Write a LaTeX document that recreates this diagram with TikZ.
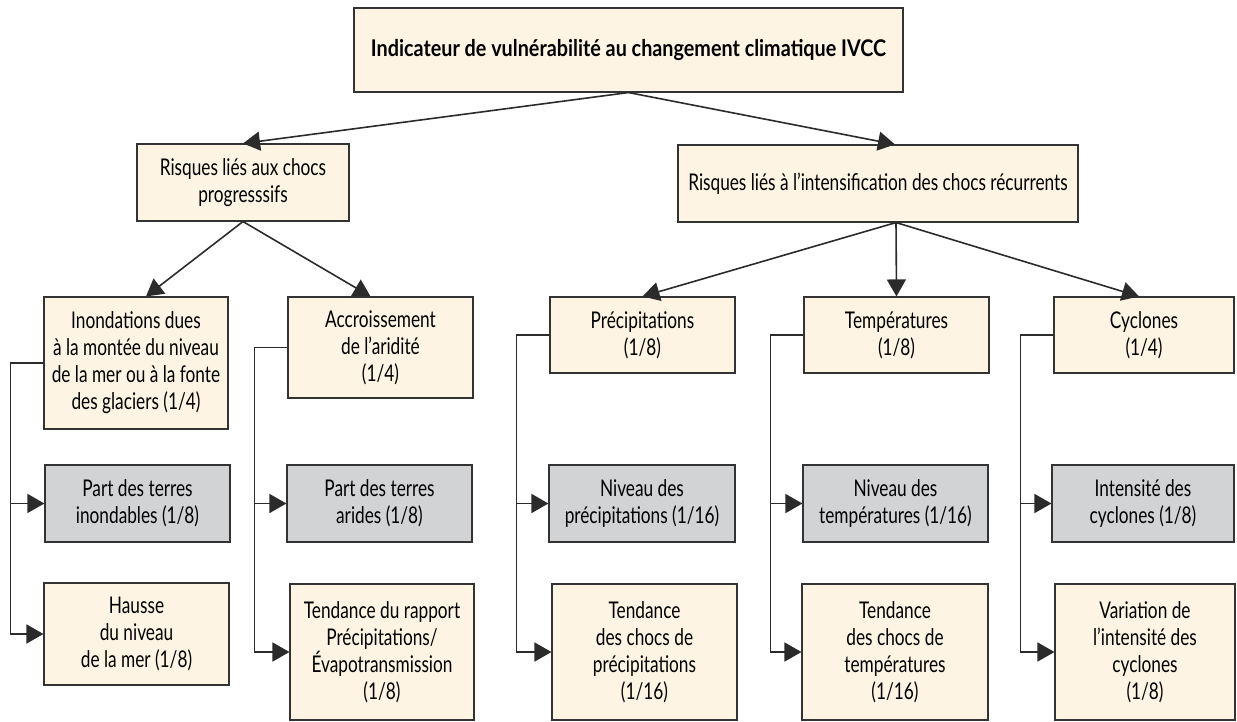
\documentclass[tikz,border=0pt]{standalone}
\usepackage{fontspec}
\setmainfont{Lato}[FakeStretch=0.75]
\newfontfamily\titlefont{Lato}[FakeStretch=0.86]
\usetikzlibrary{arrows.meta,calc}
\definecolor{cream}{HTML}{FEF4E3}
\definecolor{grayfill}{HTML}{D1D3D4}
\definecolor{edge}{HTML}{333333}
\definecolor{linec}{HTML}{2B2B2B}
\begin{document}
\begin{tikzpicture}[x=1pt,y=-1pt,
  bx/.style={draw=edge, line width=1.1pt, fill=cream, inner sep=0pt, align=center,
    font=\fontsize{23}{27}\selectfont},
  gbx/.style={bx, fill=grayfill},
  sz/.style 2 args={minimum width=#1pt, minimum height=#2pt},
  arr/.style={draw=linec, line width=1.6pt, -{Triangle[length=17pt,width=19pt]}}
]
\useasboundingbox (0,0) rectangle (1237,722);

% level 1
\node[bx, sz={549}{84}, font=\fontsize{23}{27}\selectfont\titlefont\bfseries] (top) at (628.5,50)
  {Indicateur de vulnérabilité au changement climatique IVCC};

% level 2
\node[bx, sz={212}{77}] (r1) at (243,182.5) {Risques liés aux chocs\\progresssifs};
\node[bx, sz={400}{77}] (r2) at (878,183.5) {Risques liés à l’intensification des chocs récurrents};

% level 3
\node[bx, sz={184}{132}] (inond) at (136,363)
  {Inondations dues\\à la montée du niveau\\de la mer ou à la fonte\\des glaciers (1/4)};
\node[bx, sz={185}{101}] (accr) at (380.5,347.5) {Accroissement\\de l’aridité\\(1/4)};
\node[bx, sz={185}{76}] (prec) at (642.5,335) {Précipitations\\(1/8)};
\node[bx, sz={185}{76}] (temp) at (896.5,335) {Températures\\(1/8)};
\node[bx, sz={180}{76}] (cycl) at (1144,335) {Cyclones\\(1/4)};

% level 4 (gray)
\node[gbx, sz={185}{77}] (g1) at (137.5,503.5) {Part des terres\\inondables (1/8)};
\node[gbx, sz={185}{77}] (g2) at (379.5,503.5) {Part des terres\\arides (1/8)};
\node[gbx, sz={186}{77}] (g3) at (642,503.5) {Niveau des\\précipitations (1/16)};
\node[gbx, sz={185}{77}] (g4) at (895.5,503.5) {Niveau des\\températures (1/16)};
\node[gbx, sz={182}{77}] (g5) at (1143,503.5) {Intensité des\\cyclones (1/8)};

% level 5
\node[bx, sz={185}{102}] (h1) at (136.5,634) {Hausse\\du niveau\\de la mer (1/8)};
\node[bx, sz={184}{136}] (h2) at (382,652) {Tendance du rapport\\Précipitations/\\Évapotransmission\\(1/8)};
\node[bx, sz={185}{136}] (h3) at (644.5,652) {Tendance\\des chocs de\\précipitations\\(1/16)};
\node[bx, sz={186}{136}] (h4) at (895,652) {Tendance\\des chocs de\\températures\\(1/16)};
\node[bx, sz={180}{136}] (h5) at (1145,652) {Variation de\\l’intensité des\\cyclones\\(1/8)};

% top arrows
\draw[arr] (top.south) -- (r1.north);
\draw[arr] (top.south) -- ($(r2.north)+(17,0)$);

% left fan
\draw[arr] (r1.south) -- ($(inond.north)+(10,0)$);
\draw[arr] (r1.south) -- ($(accr.north)+(-10,0)$);

% right fan
\coordinate (r2s) at ($(r2.south)+(18,0)$);
\draw[arr] (r2s) -- (prec.north);
\draw[arr] (r2s) -- (temp.north);
\draw[arr] (r2s) -- ($(cycl.north)+(-5,0)$);

% brackets
\foreach \p/\a/\b in {inond/g1/h1, accr/g2/h2, prec/g3/h3, temp/g4/h4, cycl/g5/h5}{
  \draw[arr] (\p.west) -- ++(-33,0) |- (\a.west);
  \draw[arr] (\p.west) -- ++(-33,0) |- (\b.west);
}
\end{tikzpicture}
\end{document}
